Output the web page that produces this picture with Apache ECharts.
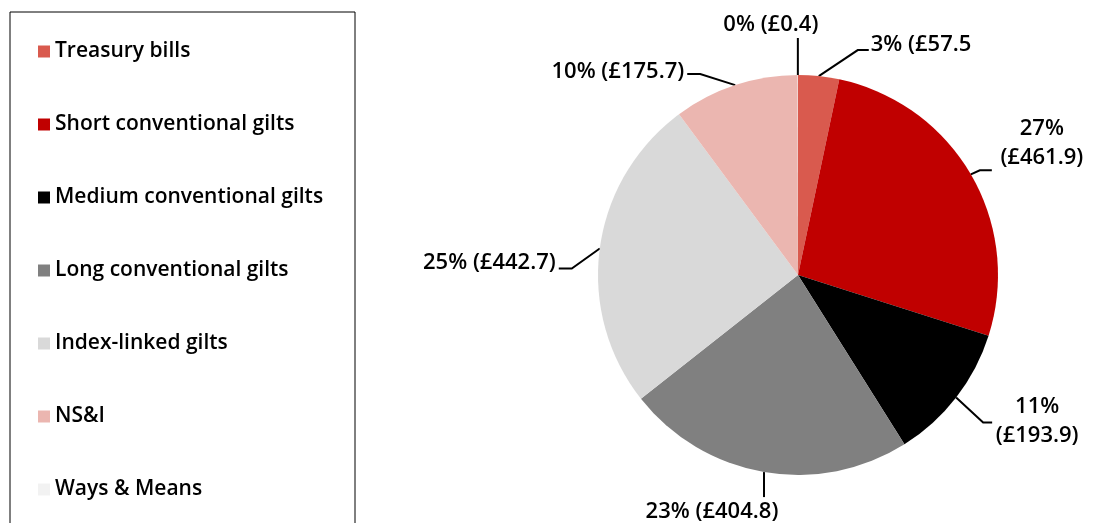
<!DOCTYPE html>
<html><head><meta charset="utf-8">
<script src="https://cdn.jsdelivr.net/npm/echarts@6/dist/echarts.min.js"></script>
<style>html,body{margin:0;padding:0;background:#fff}#c{width:1096px;height:523px}</style>
</head><body><div id="c"></div>
<script>
const categories = ['Treasury bills', 'Short conventional gilts', 'Medium conventional gilts', 'Long conventional gilts', 'Index-linked gilts', 'NS&I', 'Ways & Means'];
const values = [57.5, 461.9, 193.9, 404.8, 442.7, 175.7, 0.4];
const colors = ['#D95A4E', '#C00000', '#000000', '#808080', '#D9D9D9', '#EBB6B0', '#F2F2F2'];

// label placement, relative to the slice edge point that ECharts computes
const placement = [
  { bend: [39, -26], end: [50, -26], at: [52, -31], align: 'left',   split: false, close: false },
  { bend: [9, -4],   end: [21, -4],  at: [71, -31], align: 'center', split: true,  close: true },
  { bend: [27, 25],  end: [36, 25],  at: [81, 24],  align: 'center', split: true,  close: true },
  { bend: [0, 12],   end: [0, 25],   at: [-52, 40], align: 'center', split: false, close: true },
  { bend: [-28, 20], end: [-41, 20], at: [-44, 14], align: 'right',  split: false, close: true },
  { bend: [-35, -11], end: [-48, -11], at: [-51, -13], align: 'right', split: false, close: true },
  { bend: [0, -18],  end: [0, -37],  at: [-27, -50], align: 'center', split: false, close: true }
];

const FONT = 'Open Sans';
const WEIGHT = 600;
const chart = echarts.init(document.getElementById('c'), null, { renderer: 'canvas' });
chart.setOption({
  animation: false,
  backgroundColor: '#fff',
  legend: {
    orient: 'vertical', left: 10, top: 12, height: 560,
    icon: 'rect', itemWidth: 12, itemHeight: 12, itemGap: 52,
    padding: [29, 30, 60, 28],
    borderColor: '#000', borderWidth: 1,
    selectedMode: false,
    textStyle: { fontFamily: FONT, fontWeight: WEIGHT, fontSize: 21, color: '#000', width: 270, lineHeight: 20 },
    data: categories
  },
  series: [{
    type: 'pie',
    center: [798, 275],
    radius: 200,
    startAngle: 90,
    clockwise: true,
    avoidLabelOverlap: false,
    emphasis: { disabled: true },
    itemStyle: { borderWidth: 0 },
    label: {
      show: true, position: 'outside',
      fontFamily: FONT, fontWeight: WEIGHT, fontSize: 22, color: '#000', lineHeight: 29,
      width: 220, overflow: 'none',
      formatter: function (p) {
        const c = placement[p.dataIndex];
        return Math.round(p.percent) + '%' + (c.split ? '\n' : ' ') + '(£' + p.value.toFixed(1) + (c.close ? ')' : '');
      }
    },
    labelLine: { show: true, length: 10, length2: 10, smooth: false, lineStyle: { color: '#000', width: 2 } },
    labelLayout: function (p) {
      const c = placement[p.dataIndex];
      const e = p.labelLinePoints[0];
      return {
        x: e[0] + c.at[0], y: e[1] + c.at[1],
        align: c.align, verticalAlign: 'middle',
        labelLinePoints: [
          [e[0], e[1]],
          [e[0] + c.bend[0], e[1] + c.bend[1]],
          [e[0] + c.end[0], e[1] + c.end[1]]
        ]
      };
    },
    data: categories.map(function (n, i) { return { name: n, value: values[i], itemStyle: { color: colors[i] } }; })
  }]
});
</script></body></html>
